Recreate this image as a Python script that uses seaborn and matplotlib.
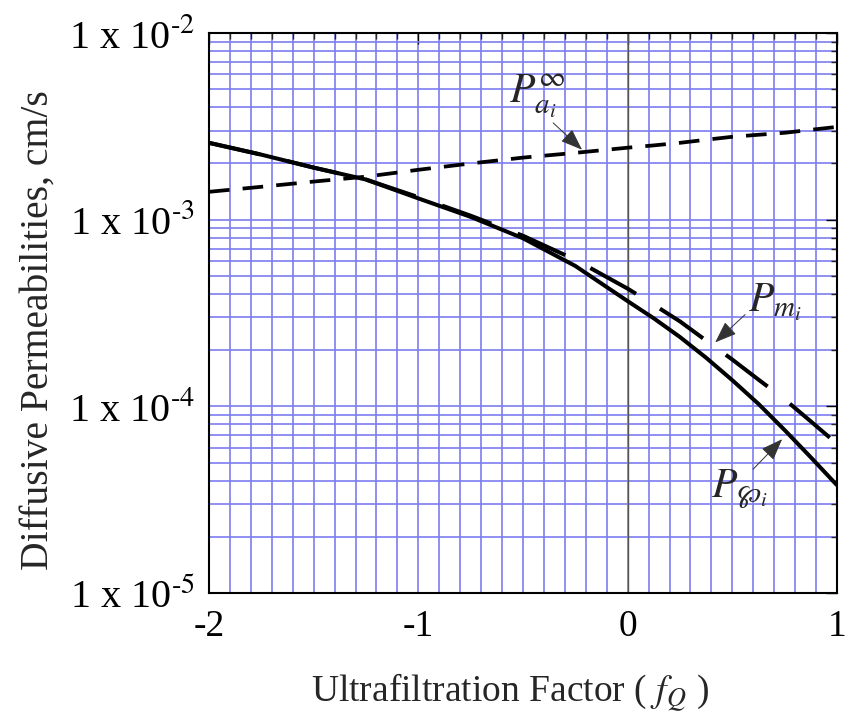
import numpy as np
import pandas as pd
import matplotlib
matplotlib.use("Agg")
import matplotlib.pyplot as plt
from matplotlib.ticker import FixedLocator, NullFormatter, LogLocator
import seaborn as sns

# ---- data ----
f_q = [-2.0, -1.75, -1.5, -1.25, -1.0, -0.75, -0.5, -0.25, 0.0,
       0.125, 0.25, 0.375, 0.5, 0.625, 0.75, 0.875, 1.0]
p_wp = [2.58e-3, 2.23e-3, 1.90e-3, 1.64e-3, 1.30e-3, 1.035e-3, 7.95e-4, 5.65e-4, 3.66e-4,
        2.96e-4, 2.35e-4, 1.82e-4, 1.38e-4, 1.03e-4, 7.46e-5, 5.33e-5, 3.78e-5]
p_m = [2.58e-3, 2.23e-3, 1.90e-3, 1.64e-3, 1.32e-3, 1.05e-3, 8.2e-4, 6.1e-4, 4.27e-4,
       3.5e-4, 2.85e-4, 2.25e-4, 1.78e-4, 1.39e-4, 1.09e-4, 8.3e-5, 6.3e-5]
p_a = [1.41e-3, 1.50e-3, 1.60e-3, 1.70e-3, 1.85e-3, 2.0e-3, 2.15e-3, 2.28e-3, 2.43e-3,
       2.50e-3, 2.58e-3, 2.68e-3, 2.78e-3, 2.85e-3, 2.92e-3, 3.03e-3, 3.14e-3]
y_ticks = [1e-5, 1e-4, 1e-3, 1e-2]
y_tick_labels = [r"1 x 10$^{\text{-}5}$", r"1 x 10$^{\text{-}4}$",
                 r"1 x 10$^{\text{-}3}$", r"1 x 10$^{\text{-}2}$"]
x_ticks = [-2, -1, 0, 1]
x_tick_labels = ["-2", "-1", "0", "1"]

sns.set_style("white")
plt.rcParams["font.family"] = ["Liberation Serif", "DejaVu Serif"]
plt.rcParams["mathtext.fontset"] = "stix"

fig = plt.figure(figsize=(8.46, 7.26), dpi=100)
ax = fig.add_axes([209 / 846, 1 - 593 / 726, (837 - 209) / 846, (593 - 33) / 726])

ax.set_yscale("log")
ax.set_xlim(-2, 1)
ax.set_ylim(1e-5, 1e-2)

# grid
grid_color = "#7d7df0"
ax.xaxis.set_minor_locator(FixedLocator(np.round(np.arange(-2, 1.001, 0.1), 2)))
ax.yaxis.set_minor_locator(LogLocator(base=10, subs=np.arange(2, 10), numticks=20))
ax.yaxis.set_minor_formatter(NullFormatter())
ax.grid(True, which="both", color=grid_color, linewidth=1.2, linestyle="-")
ax.set_axisbelow(True)
ax.axvline(0, color="#555555", linewidth=1.0, zorder=1.5)

df = pd.DataFrame({"f": f_q, "wp": p_wp, "m": p_m, "a": p_a})
sns.lineplot(data=df, x="f", y="wp", ax=ax, color="black", linewidth=2.9)
sns.lineplot(data=df, x="f", y="m", ax=ax, color="black", linewidth=2.9)
ax.lines[-1].set_dashes([13, 7])
sns.lineplot(data=df, x="f", y="a", ax=ax, color="black", linewidth=2.7)
ax.lines[-1].set_dashes([5.5, 3.5])

ax.set_yticks(y_ticks)
ax.set_yticklabels(y_tick_labels)
ax.set_xticks(x_ticks)
ax.set_xticklabels(x_tick_labels)
ax.tick_params(axis="y", which="major", labelsize=29, pad=10)
ax.tick_params(axis="x", which="major", labelsize=27, pad=12)
ax.tick_params(axis="both", which="major", direction="in", length=8, width=1,
               top=True, right=True, colors="black")
ax.tick_params(axis="both", which="minor", direction="in", length=4, width=1,
               top=True, right=True)
for s in ax.spines.values():
    s.set_linewidth(1.5)
    s.set_color("black")

ax.set_xlabel(r"Ultrafiltration Factor ( $f_Q$ )", fontsize=27)
ax.xaxis.set_label_coords(0.48, -0.14)
ax.set_ylabel("Diffusive Permeabilities, cm/s", fontsize=28.5)
ax.yaxis.set_label_coords(-0.243, 0.47)

arrow = dict(arrowstyle="-|>,head_length=0.8,head_width=0.3", color="#333333",
             lw=0.7, shrinkA=0, shrinkB=0, mutation_scale=17)
# labels
ax.text(-0.565, 4.22e-3, r"$P_{a_i}^{\infty}$", fontsize=30, ha="left", va="baseline")
ax.text(0.575, 3.22e-4, r"$P_{m_i}$", fontsize=30, ha="left", va="baseline")
ax.text(0.40, 3.3e-5, r"$P_{\wp_i}$", fontsize=30, ha="left", va="baseline")
# arrows
ax.annotate("", xy=(-0.218, 2.37e-3), xytext=(-0.356, 3.3e-3), arrowprops=arrow)
ax.annotate("", xy=(0.418, 2.2e-4), xytext=(0.561, 3.1e-4), arrowprops=arrow)
ax.annotate("", xy=(0.738, 6.67e-5), xytext=(0.599, 4.6e-5), arrowprops=arrow)

fig.savefig("out.png", dpi=100)
